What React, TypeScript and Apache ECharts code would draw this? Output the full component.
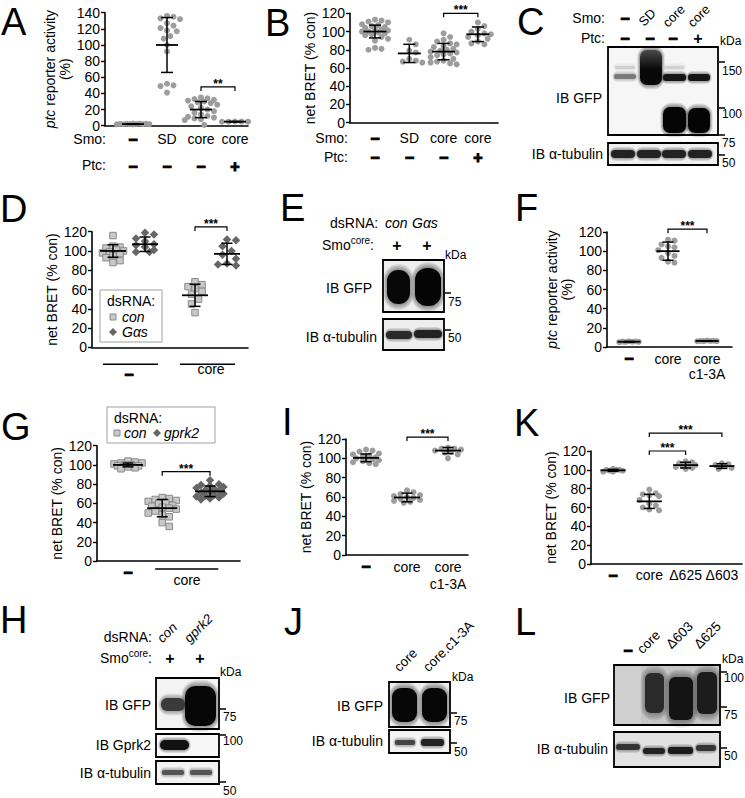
import React, { useEffect, useRef } from 'react';
import * as echarts from 'echarts';

const FONT = '"Liberation Sans", Arial, Helvetica, sans-serif';

// ---------------- Panel A : ptc reporter activity (%) ----------------
const aSmoLabels = ['−', 'SD', 'core', 'core'];
const aPtcLabels = ['−', '−', '−', '+'];
const aNone = [2.0, 2.3, 1.8, 2.5, 1.7, 2.1, 2.4, 1.9, 2.2, 2.0, 1.6, 2.6];
const aSD = [136, 135, 133, 132, 127, 124, 121, 118, 117, 111, 108, 100, 92, 52, 50, 49, 41];
const aCore = [35, 34, 33, 32, 31, 30, 29, 28, 26, 24, 22, 20, 18, 16, 14, 12, 11, 10, 9, 8, 7, 1];
const aCorePtc = [5, 5.2, 4.9, 5.1, 5];
const aMeans = [2, 100, 20, 5];
const aSDs = [0.4, 34, 10, 0.3];
const aSig = [[2, 3, 48]];
const aSigText = ['**'];

// ---------------- Panel B : net BRET ----------------
const bSmoLabels = ['−', 'SD', 'core', 'core'];
const bPtcLabels = ['−', '−', '−', '+'];
const bNone = [113, 112, 111, 110, 108, 107, 106, 105, 104, 103, 102, 101, 100, 100, 99, 98, 97, 96, 94, 92, 90, 82, 81, 80];
const bSD = [91, 86, 79, 77, 70, 68, 67, 66];
const bCore = [98, 94, 91, 89, 87, 86, 84, 83, 81, 80, 79, 78, 77, 76, 75, 74, 72, 70, 68, 67, 66, 65, 64];
const bCorePtc = [110, 106, 103, 100, 98, 97, 96, 94, 92, 89, 87, 86];
const bMeans = [100, 76, 78, 97];
const bSDs = [7, 10, 9, 8];
const bSig = [[2, 3, 120]];
const bSigText = ['***'];

// ---------------- Panel D : net BRET, dsRNA con / Gαs ----------------
const dGroupLabels = ['−', 'core'];
const dConNone = [116, 105, 104, 103, 101, 100, 99, 98, 97, 95, 93, 90, 88];
const dGasNone = [119, 117, 113, 110, 107, 106, 104, 101, 99, 99];
const dConCore = [68, 65, 63, 61, 58, 55, 50, 45, 36];
const dGasCore = [112, 111, 105, 100, 96, 92, 87, 86, 85];
const dMeans = [100, 107, 54, 97];
const dSDs = [6.5, 7.5, 11.5, 11];
const dSig = [[2, 3, 125]];
const dSigText = ['***'];

// ---------------- Panel F : ptc reporter activity ----------------
const fLabels = ['−', 'core', 'core\nc1-3A'];
const fNone = [5, 5.5, 6, 5.2, 5.8, 5.4, 5.6];
const fCore = [112, 111, 107, 105, 104, 101, 98, 95, 93, 89, 88];
const fC13A = [6, 6.5, 6.2, 6.8, 6.1, 6.4, 6.3];
const fMeans = [5.5, 100, 6.3];
const fSDs = [0.3, 9.5, 0.3];
const fSig = [[1, 2, 123]];
const fSigText = ['***'];

// ---------------- Panel G : net BRET, dsRNA con / gprk2 ----------------
const gGroupLabels = ['−', 'core'];
const gNone = [104, 103, 102, 102, 101, 100, 100, 99, 99, 98, 97, 96];
const gConCore = [66, 65, 64, 63, 62, 61, 60, 58, 57, 56, 55, 54, 52, 50, 48, 46, 40, 36];
const gGprk2Core = [84, 80, 79, 78, 77, 76, 75, 74, 73, 72, 71, 70, 69, 68, 67, 66, 65, 64];
const gMeans = [100, 55, 72.5];
const gSDs = [2, 9, 5.5];
const gSig = [[1, 2, 93]];
const gSigText = ['***'];

// ---------------- Panel I : net BRET ----------------
const iLabels = ['−', 'core', 'core\nc1-3A'];
const iNone = [109, 108, 107, 105, 104, 103, 102, 101, 100, 100, 99, 98, 97, 96, 95, 94];
const iCore = [67, 65, 63, 62, 61, 60, 59, 58, 57, 56, 55, 54];
const iC13A = [111, 110, 110, 109, 108, 107, 106, 104, 100];
const iMeans = [100.5, 59.5, 108];
const iSDs = [4, 4.5, 3.2];
const iSig = [[1, 2, 122]];
const iSigText = ['***'];

// ---------------- Panel K : net BRET ----------------
const kLabels = ['−', 'core', 'Δ625', 'Δ603'];
const kNone = [101, 100, 100, 99, 99, 98, 98, 100];
const kCore = [79, 75, 74, 73, 72, 68, 64, 62, 60, 58, 57];
const kD625 = [109, 108, 107, 106, 105, 104, 103, 102, 101];
const kD603 = [107, 106, 105, 104, 102, 101];
const kMeans = [99.5, 66.5, 105, 104];
const kSDs = [1, 7.5, 3, 2.5];
const kSig = [[1, 2, 120], [1, 3, 139]];
const kSigText = ['***', '***'];

// ---------------- Blot labels ----------------
const cLaneSmo = ['−', 'SD', 'core', 'core'];
const cLanePtc = ['−', '−', '−', '+'];
const cMarkers = ['150', '100', '75', '50'];
const eLanes = ['con', 'Gαs'];
const eMarkers = ['75', '50'];
const hLanes = ['con', 'gprk2'];
const hMarkers = ['75', '100', '50'];
const jLanes = ['core', 'core.c1-3A'];
const jMarkers = ['75', '50'];
const lLanes = ['−', 'core', 'Δ603', 'Δ625'];
const lMarkers = ['100', '75', '50'];

// ---------------- helpers ----------------
const SYM: any = {
  circle: { size: 6, style: { color: '#9d9d9d' } },
  rect: { size: 6.5, style: { color: '#c8c8c8', borderColor: '#8a8a8a', borderWidth: 1 } },
  diamond: { size: 8.5, style: { color: '#666666' } },
};

// deterministic beeswarm: x offsets (px) limited to +/- maxHalf
function swarm(vals: number[], pxPerY: number, diam: number, maxHalf: number): number[] {
  const placed: number[][] = [];
  const offs = new Array(vals.length).fill(0);
  const order = vals.map((_, i) => i).sort((a, b) => vals[b] - vals[a]);
  const step = diam * 0.5;
  const nSteps = Math.floor(maxHalf / step);
  for (const i of order) {
    const y = vals[i] * pxPerY;
    let best = 0, bestD = -1, found = false;
    for (let k = 0; k <= nSteps * 2; k++) {
      const c = (k % 2 ? 1 : -1) * Math.ceil(k / 2) * step;
      let minD = Infinity;
      placed.forEach(([px, py]) => { minD = Math.min(minD, Math.hypot(px - c, py - y)); });
      if (minD >= diam * 0.9) { best = c; found = true; break; }
      if (minD > bestD) { bestD = minD; best = c; }
    }
    if (!found && placed.length === 0) best = 0;
    offs[i] = best;
    placed.push([best, y]);
  }
  return offs;
}

const tok = (s: string) => (s === '−' || s === '+' ? `{d|${s}}` : `{t|${s}}`);
const richRows = (lh: number) => ({
  d: { fontSize: 16, fontWeight: 'bold', color: '#000', fontFamily: FONT, textBorderColor: '#000', textBorderWidth: 1, lineHeight: lh },
  t: { fontSize: 14, color: '#000', fontFamily: FONT, lineHeight: lh },
});
const ITAL = { i: { fontStyle: 'italic', fontSize: 14, fontFamily: FONT, color: '#000' } };

function addPanel(opt: any, d: any) {
  const idx = opt.grid.length;
  const xMin = -(d.p0 - d.L) / d.s;
  const xMax = xMin + (d.R - d.L) / d.s;
  opt.grid.push({ left: d.L, top: d.top, width: d.R - d.L, height: d.bottom - d.top });
  opt.xAxis.push({
    gridIndex: idx, type: 'value', min: xMin, max: xMax, position: 'bottom',
    axisLine: { show: true, onZero: false, lineStyle: { color: '#000', width: 1.6 } },
    axisTick: { show: false }, splitLine: { show: false },
    axisLabel: {
      show: true, customValues: d.labelVals, formatter: d.fmt, margin: d.margin,
      color: '#000', fontFamily: FONT, fontSize: 14, rich: d.rich, hideOverlap: false,
    },
  });
  opt.yAxis.push({
    gridIndex: idx, type: 'value', min: 0, max: d.yMax, interval: 20,
    axisLine: { show: true, onZero: false, lineStyle: { color: '#000', width: 1.6 } },
    axisTick: { show: true, length: 4, lineStyle: { color: '#000', width: 1.4 } },
    splitLine: { show: false },
    axisLabel: { color: '#000', fontFamily: FONT, fontSize: 14, margin: 5, lineHeight: 13 },
    name: d.yName, nameLocation: 'middle', nameGap: d.nameGap, nameRotate: 90,
    nameTextStyle: { color: '#000', fontFamily: FONT, fontSize: 14, lineHeight: d.nameLH || 16, rich: d.nameRich || {} },
  });
  const pxY = (d.bottom - d.top) / d.yMax;
  d.groups.forEach((g: any) => {
    const sym = SYM[g.sym];
    const offs = swarm(g.vals, pxY, sym.size + 0.5, d.spread || 15);
    opt.series.push({
      type: 'scatter', xAxisIndex: idx, yAxisIndex: idx, symbol: g.sym, symbolSize: sym.size,
      itemStyle: { ...sym.style, opacity: 1 }, silent: true, z: 2,
      data: g.vals.map((v: number, i: number) => [g.x + offs[i] / d.s, v]),
    });
  });
  const mh = d.meanHalf;
  const ch = d.capHalf || 5.5;
  opt.series.push({
    type: 'custom', xAxisIndex: idx, yAxisIndex: idx, z: 5, silent: true,
    data: d.groups.map((g: any) => [g.x, g.mean, g.sd]),
    renderItem: (params: any, api: any) => {
      const x = api.value(0), m = api.value(1), s = api.value(2);
      const c = api.coord([x, m]);
      const t = api.coord([x, m + s]);
      const b = api.coord([x, Math.max(0, m - s)]);
      const st = { stroke: '#000', lineWidth: 1.5 };
      return {
        type: 'group',
        children: [
          { type: 'line', shape: { x1: c[0] - mh, y1: c[1], x2: c[0] + mh, y2: c[1] }, style: { stroke: '#000', lineWidth: 1.8 } },
          { type: 'line', shape: { x1: t[0], y1: t[1], x2: b[0], y2: b[1] }, style: st },
          { type: 'line', shape: { x1: t[0] - ch, y1: t[1], x2: t[0] + ch, y2: t[1] }, style: st },
          { type: 'line', shape: { x1: b[0] - ch, y1: b[1], x2: b[0] + ch, y2: b[1] }, style: st },
        ],
      };
    },
  });
  opt.series.push({
    type: 'custom', xAxisIndex: idx, yAxisIndex: idx, z: 6, silent: true, clip: false,
    data: d.sig.map((s: number[]) => [d.groups[s[0]].x, d.groups[s[1]].x, s[2]]),
    renderItem: (params: any, api: any) => {
      const p1 = api.coord([api.value(0), api.value(2)]);
      const p2 = api.coord([api.value(1), api.value(2)]);
      return {
        type: 'group',
        children: [
          { type: 'polyline', shape: { points: [[p1[0], p1[1] + 4], [p1[0], p1[1]], [p2[0], p2[1]], [p2[0], p2[1] + 4]] }, style: { stroke: '#000', lineWidth: 1.2, fill: 'none' } },
          { type: 'text', x: (p1[0] + p2[0]) / 2, y: p1[1] + 3, style: { text: d.sigText[params.dataIndex], fontFamily: FONT, fontSize: 12, fontWeight: 'bold', fill: '#000', align: 'center', verticalAlign: 'bottom' } },
        ],
      };
    },
  });
  if (d.groupLines) {
    opt.series.push({
      type: 'custom', xAxisIndex: idx, yAxisIndex: idx, z: 6, silent: true, clip: false,
      data: d.groupLines,
      renderItem: (params: any, api: any) => {
        const p1 = api.coord([api.value(0), 0]);
        const p2 = api.coord([api.value(1), 0]);
        return { type: 'line', shape: { x1: p1[0], y1: p1[1] + d.groupLineOffset, x2: p2[0], y2: p2[1] + d.groupLineOffset }, style: { stroke: '#000', lineWidth: 1.6 } };
      },
    });
  }
}

// ---------------- graphic helpers ----------------
function T(text: string, x: number, y: number, o: any = {}) {
  const size = o.size || 14;
  const style: any = {
    text, fontFamily: FONT, fontSize: size, fontWeight: o.bold ? 'bold' : 'normal',
    fontStyle: o.italic ? 'italic' : 'normal', fill: '#000',
    align: o.align || 'left', verticalAlign: o.va || 'middle',
  };
  if (!o.rich) style.lineHeight = Math.round(size * 0.95);
  if (o.rich) style.rich = o.rich;
  if (o.stroke) { style.stroke = o.stroke; style.lineWidth = o.lw || 1; }
  return { type: 'text', x, y, rotation: o.rot || 0, z: 30, silent: true, style };
}
const DASH = (x: number, y: number) => T('−', x, y, { align: 'center', bold: true, size: 16, stroke: '#000', lw: 1 });
const PLUS = (x: number, y: number) => T('+', x, y, { align: 'center', bold: true, size: 16 });
const SIGN = (s: string, x: number, y: number) => (s === '+' ? PLUS(x, y) : DASH(x, y));
const ROT = (s: string, x: number, y: number, italic = false, size = 13.5) => T(s, x, y, { rot: Math.PI / 4, va: 'bottom', italic, size });
const BG = (x: number, y: number, w: number, h: number, fill: string) => ({ type: 'rect', z: 10, silent: true, shape: { x, y, width: w, height: h }, style: { fill } });
const FRAME = (x: number, y: number, w: number, h: number) => ({ type: 'rect', z: 14, silent: true, shape: { x, y, width: w, height: h }, style: { fill: 'none', stroke: '#000', lineWidth: 1.8 } });
// soft-edged band: several faint halo layers + core with optional vertical gradient
function BAND(x: number, y: number, w: number, h: number, color: string, soft = 2, r = 3, top?: string) {
  const out: any[] = [];
  [5, 4, 3, 2, 1].forEach((k) => {
    const e = k * soft * 0.6;
    out.push({
      type: 'rect', z: 11, silent: true,
      shape: { x: x - e * 0.6, y: y - e, width: w + e * 1.2, height: h + 2 * e, r: r + e },
      style: { fill: color, opacity: 0.09 },
    });
  });
  const fill = top
    ? { type: 'linear', x: 0, y: 0, x2: 0, y2: 1, colorStops: [{ offset: 0, color: top }, { offset: 0.55, color }, { offset: 1, color }] }
    : color;
  out.push({ type: 'rect', z: 12, silent: true, shape: { x, y, width: w, height: h, r }, style: { fill } });
  return out;
}
const MARK = (x: number, y: number, label: string, ly: number) => [
  { type: 'line', z: 15, silent: true, shape: { x1: x, y1: y, x2: x + 6, y2: y }, style: { stroke: '#000', lineWidth: 1.5 } },
  T(label, x + 3, ly, { size: 12 }),
];
const SUPER = { a: { fontSize: 14, fontFamily: FONT, color: '#000' }, b: { fontSize: 10, fontFamily: FONT, color: '#000', padding: [0, 0, 10, 0] } };
const SMOCORE = (x: number, y: number) => T('{a|Smo}{b|core}{a|:}', x, y, { align: 'right', rich: SUPER });

function buildGraphics() {
  const g: any[] = [];
  // panel letters
  [['A', 1, 21.5], ['B', 265, 22.5], ['C', 517, 21.5], ['D', 0, 209], ['E', 280, 208], ['F', 515, 208],
   ['G', 1, 427], ['I', 282, 422], ['K', 514, 423], ['H', 0, 620], ['J', 284, 622], ['L', 515, 622]]
    .forEach(([t, x, y]: any) => g.push(T(t, x, y, { size: 38 })));

  // row headers A & B
  g.push(T('Smo:', 106, 139, { align: 'right' }), T('Ptc:', 106, 165, { align: 'right' }));
  g.push(T('Smo:', 348, 138, { align: 'right' }), T('Ptc:', 348, 157, { align: 'right' }));

  // legend D
  g.push({ type: 'rect', z: 20, silent: true, shape: { x: 100, y: 290, width: 62, height: 52 }, style: { fill: '#fff', stroke: '#a0a0a0', lineWidth: 1 } });
  g.push(T('dsRNA:', 107, 301));
  g.push({ type: 'rect', z: 31, silent: true, shape: { x: 110, y: 314, width: 6, height: 6 }, style: { fill: '#c8c8c8', stroke: '#8a8a8a', lineWidth: 1 } });
  g.push(T('con', 122, 317, { italic: true }));
  g.push({ type: 'polygon', z: 31, silent: true, shape: { points: [[113, 328], [117, 332], [113, 336], [109, 332]] }, style: { fill: '#666' } });
  g.push(T('Gαs', 122, 332, { italic: true }));

  // legend G
  g.push({ type: 'rect', z: 20, silent: true, shape: { x: 107, y: 407, width: 108, height: 36 }, style: { fill: '#fff', stroke: '#a0a0a0', lineWidth: 1 } });
  g.push(T('dsRNA:', 114, 418));
  g.push({ type: 'rect', z: 31, silent: true, shape: { x: 114, y: 430, width: 6, height: 6 }, style: { fill: '#c8c8c8', stroke: '#8a8a8a', lineWidth: 1 } });
  g.push(T('con', 124, 433, { italic: true }));
  g.push({ type: 'polygon', z: 31, silent: true, shape: { points: [[157, 429], [161, 433], [157, 437], [153, 433]] }, style: { fill: '#666' } });
  g.push(T('gprk2', 164, 433, { italic: true }));

  // ---- C blot ----
  const cX = [625, 650, 673, 698];
  g.push(T('Smo:', 605, 18, { align: 'right' }), T('Ptc:', 605, 38, { align: 'right' }));
  g.push(DASH(cX[0], 18));
  g.push(ROT(cLaneSmo[1], 645, 28, false, 13), ROT(cLaneSmo[2], 669, 29, false, 13), ROT(cLaneSmo[3], 694, 29, false, 13));
  cLanePtc.forEach((s, i) => g.push(SIGN(s, cX[i], 38)));
  g.push(T('kDa', 720, 41, { size: 12 }));
  g.push(BG(608, 47, 110, 88, '#f6f6f6'));
  g.push(...BAND(615, 66, 20, 3, '#cfcfcf', 1), ...BAND(614, 74, 22, 5, '#7a7a7a', 1));
  g.push(...BAND(640, 50, 22, 35, '#080808', 1.5, 7, '#4a4a4a'));
  g.push(...BAND(664, 66, 20, 3, '#d0d0d0', 1), ...BAND(663, 74, 23, 7, '#151515', 1));
  g.push(...BAND(663, 107, 23, 26, '#050505', 1.5, 7));
  g.push(...BAND(688, 74, 22, 7, '#151515', 1), ...BAND(688, 108, 22, 25, '#050505', 1.5, 7));
  g.push(FRAME(608, 47, 110, 88));
  g.push(T('IB GFP', 602, 98, { align: 'right' }));
  g.push(BG(608, 143, 110, 22, '#f0f0f0'));
  [611, 637, 662, 688].forEach((x) => g.push(...BAND(x, 150, 24, 8, '#222', 1, 4)));
  g.push(FRAME(608, 143, 110, 22));
  g.push(T('IB α-tubulin', 603, 154, { align: 'right' }));
  [[62, 71], [108, 114], [135, 143], [155, 163]].forEach(([y, ly], i) => g.push(...MARK(719, y, cMarkers[i], ly)));

  // ---- E blot ----
  g.push(T('dsRNA:', 330, 223), T(eLanes[0], 385, 223, { italic: true }), T(eLanes[1], 412, 223, { italic: true }));
  g.push(SMOCORE(374, 245), PLUS(397, 245), PLUS(427, 245));
  g.push(T('kDa', 445, 255, { size: 12 }));
  g.push(BG(383, 260, 61, 52, '#eeeeee'));
  g.push(...BAND(387, 270, 23, 34, '#080808', 2, 11), ...BAND(415, 268, 26, 38, '#050505', 2, 12));
  g.push(FRAME(383, 260, 61, 52));
  g.push(T('IB GFP', 372, 288, { align: 'right' }));
  g.push(BG(383, 319, 61, 31, '#eeeeee'));
  g.push(...BAND(386, 331, 26, 8, '#2a2a2a', 1, 4), ...BAND(414, 330, 28, 8, '#222', 1, 4));
  g.push(FRAME(383, 319, 61, 31));
  g.push(T('IB α-tubulin', 377, 337, { align: 'right' }));
  [[293, 302], [330, 338]].forEach(([y, ly], i) => g.push(...MARK(445, y, eMarkers[i], ly)));

  // ---- H blot ----
  g.push(T('dsRNA:', 152, 637, { align: 'right' }));
  g.push(ROT(hLanes[0], 164, 645, true), ROT(hLanes[1], 191, 645, true));
  g.push(SMOCORE(152, 658), PLUS(170, 658), PLUS(200, 658));
  g.push(T('kDa', 220, 672, { size: 12 }));
  g.push(BG(156, 678, 63, 51, '#f3f3f3'));
  g.push(...BAND(161, 698, 24, 13, '#3a3a3a', 1.5, 6));
  g.push(...BAND(185, 686, 31, 40, '#060606', 2, 10));
  g.push(FRAME(156, 678, 63, 51));
  g.push(T('IB GFP', 151, 705, { align: 'right' }));
  g.push(BG(156, 734, 63, 23, '#f7f7f7'));
  g.push(...BAND(160, 740, 29, 10, '#111', 1, 5));
  g.push(FRAME(156, 734, 63, 23));
  g.push(T('IB Gprk2', 151, 745, { align: 'right' }));
  g.push(BG(156, 761, 63, 23, '#f3f3f3'));
  g.push(...BAND(162, 770, 22, 5, '#555', 1, 2), ...BAND(190, 770, 22, 5, '#555', 1, 2));
  g.push(FRAME(156, 761, 63, 23));
  g.push(T('IB α-tubulin', 151, 773, { align: 'right' }));
  [[709, 717], [735, 741], [782, 791]].forEach(([y, ly], i) => g.push(...MARK(220, y, hMarkers[i], ly)));

  // ---- J blot ----
  g.push(ROT(jLanes[0], 401, 674), ROT(jLanes[1], 430, 674));
  g.push(T('kDa', 452, 677, { size: 12 }));
  g.push(BG(389, 682, 61, 45, '#eeeeee'));
  g.push(...BAND(392, 688, 25, 34, '#060606', 2, 9), ...BAND(422, 688, 25, 34, '#060606', 2, 9));
  g.push(FRAME(389, 682, 61, 45));
  g.push(T('IB GFP', 383, 706, { align: 'right' }));
  g.push(BG(389, 730, 61, 23, '#f3f3f3'));
  g.push(...BAND(395, 740, 20, 5, '#444', 1, 2), ...BAND(421, 739, 23, 7, '#222', 1, 3));
  g.push(FRAME(389, 730, 61, 23));
  g.push(T('IB α-tubulin', 383, 741, { align: 'right' }));
  [[713, 721], [743, 752]].forEach(([y, ly], i) => g.push(...MARK(451, y, jMarkers[i], ly)));

  // ---- L blot ----
  g.push(DASH(628, 650));
  g.push(ROT(lLanes[1], 644, 656), ROT(lLanes[2], 673, 651), ROT(lLanes[3], 701, 651));
  g.push(T('kDa', 722, 659, { size: 12 }));
  g.push(BG(614, 665, 106, 60, '#c6c6c6'));
  g.push(BG(615, 666, 26, 58, '#cfcfcf'));
  g.push(...BAND(645, 673, 19, 40, '#2a2a2a', 2.5, 6), ...BAND(669, 677, 24, 43, '#141414', 2.5, 6), ...BAND(697, 672, 20, 42, '#1c1c1c', 2.5, 6));
  g.push(FRAME(614, 665, 106, 60));
  g.push(T('IB GFP', 610, 698, { align: 'right' }));
  g.push(BG(614, 732, 106, 35, '#e2e2e2'));
  g.push(...BAND(616, 744, 24, 6, '#333', 1, 3), ...BAND(643, 748, 22, 6, '#222', 1, 3), ...BAND(668, 747, 25, 7, '#1a1a1a', 1, 3), ...BAND(696, 745, 20, 6, '#333', 1, 3));
  g.push(FRAME(614, 732, 106, 35));
  g.push(T('IB α-tubulin', 608, 749, { align: 'right' }));
  [[672, 678], [707, 715], [748, 756]].forEach(([y, ly], i) => g.push(...MARK(721, y, lMarkers[i], ly)));
  return g;
}

function buildOption() {
  const opt: any = {
    animation: false, backgroundColor: '#fff', textStyle: { fontFamily: FONT },
    grid: [], xAxis: [], yAxis: [], series: [],
  };
  const yBret = 'net BRET (% con)';
  const yPtc = '{i|ptc} reporter activity\n(%)';

  // A
  addPanel(opt, {
    L: 105, R: 248, top: 12.7, bottom: 125.7, p0: 133, s: 34, yMax: 140, spread: 17,
    groups: [aNone, aSD, aCore, aCorePtc].map((vals, i) => ({ x: i, vals, mean: aMeans[i], sd: aSDs[i], sym: 'circle' })),
    labelVals: [0, 1, 2, 3], margin: 0, rich: richRows(27),
    fmt: (v: number) => { const i = Math.round(v); return `${tok(aSmoLabels[i])}\n${tok(aPtcLabels[i])}`; },
    yName: yPtc, nameGap: 26, nameLH: 15, nameRich: ITAL,
    sig: aSig, sigText: aSigText, meanHalf: 11, capHalf: 6,
  });
  // B
  addPanel(opt, {
    L: 350, R: 498, top: 13.3, bottom: 122.7, p0: 375, s: 34.3, yMax: 120, spread: 15,
    groups: [bNone, bSD, bCore, bCorePtc].map((vals, i) => ({ x: i, vals, mean: bMeans[i], sd: bSDs[i], sym: 'circle' })),
    labelVals: [0, 1, 2, 3], margin: 6, rich: richRows(19),
    fmt: (v: number) => { const i = Math.round(v); return `${tok(bSmoLabels[i])}\n${tok(bPtcLabels[i])}`; },
    yName: yBret, nameGap: 27,
    sig: bSig, sigText: bSigText, meanHalf: 11.5, capHalf: 6,
  });
  // D
  const dX = [-0.195, 0.195, 0.805, 1.195];
  const dSym = ['rect', 'diamond', 'rect', 'diamond'];
  addPanel(opt, {
    L: 92, R: 248, top: 231.7, bottom: 347.3, p0: 129, s: 82, yMax: 120, spread: 13,
    groups: [dConNone, dGasNone, dConCore, dGasCore].map((vals, i) => ({ x: dX[i], vals, mean: dMeans[i], sd: dSDs[i], sym: dSym[i] })),
    labelVals: [0, 1], margin: 15,
    rich: { d: { ...richRows(14).d, padding: [10, 0, 0, 0] }, t: richRows(14).t },
    fmt: (v: number) => tok(dGroupLabels[Math.round(v)]),
    yName: yBret, nameGap: 32,
    sig: dSig, sigText: dSigText, meanHalf: 13, capHalf: 5.5,
    groupLines: [[-0.317, 0.354], [0.622, 1.293]], groupLineOffset: 17,
  });
  // F
  addPanel(opt, {
    L: 607, R: 732, top: 232, bottom: 347, p0: 629, s: 39, yMax: 120, spread: 12,
    groups: [fNone, fCore, fC13A].map((vals, i) => ({ x: i, vals, mean: fMeans[i], sd: fSDs[i], sym: 'circle' })),
    labelVals: [0, 1, 2], margin: 4, rich: richRows(15),
    fmt: (v: number) => fLabels[Math.round(v)].split('\n').map(tok).join('\n'),
    yName: yPtc, nameGap: 32, nameLH: 15, nameRich: ITAL,
    sig: fSig, sigText: fSigText, meanHalf: 11.5, capHalf: 5.5,
  });
  // G
  const gX = [0, 0.58, 1.39];
  const gSym = ['rect', 'rect', 'diamond'];
  addPanel(opt, {
    L: 97, R: 240, top: 445.7, bottom: 561, p0: 128, s: 59, yMax: 120, spread: 15,
    groups: [gNone, gConCore, gGprk2Core].map((vals, i) => ({ x: gX[i], vals, mean: gMeans[i], sd: gSDs[i], sym: gSym[i] })),
    labelVals: [0, 1], margin: 4,
    rich: { d: richRows(14).d, t: { ...richRows(14).t, padding: [16, 0, 0, 0] } },
    fmt: (v: number) => tok(gGroupLabels[Math.round(v)]),
    yName: yBret, nameGap: 21,
    sig: gSig, sigText: gSigText, meanHalf: 15, capHalf: 5.5,
    groupLines: [[0.46, 1.53]], groupLineOffset: 8,
  });
  // I
  addPanel(opt, {
    L: 346, R: 468, top: 439, bottom: 555, p0: 366, s: 41, yMax: 120, spread: 14,
    groups: [iNone, iCore, iC13A].map((vals, i) => ({ x: i, vals, mean: iMeans[i], sd: iSDs[i], sym: 'circle' })),
    labelVals: [0, 1, 2], margin: 3, rich: richRows(17),
    fmt: (v: number) => iLabels[Math.round(v)].split('\n').map(tok).join('\n'),
    yName: yBret, nameGap: 28,
    sig: iSig, sigText: iSigText, meanHalf: 13, capHalf: 5.5,
  });
  // K
  addPanel(opt, {
    L: 591, R: 742, top: 451, bottom: 564, p0: 613, s: 36.3, yMax: 120, spread: 12,
    groups: [kNone, kCore, kD625, kD603].map((vals, i) => ({ x: i, vals, mean: kMeans[i], sd: kSDs[i], sym: 'circle' })),
    labelVals: [0, 1, 2, 3], margin: 3, rich: richRows(16),
    fmt: (v: number) => tok(kLabels[Math.round(v)]),
    yName: yBret, nameGap: 30,
    sig: kSig, sigText: kSigText, meanHalf: 12.5, capHalf: 5.5,
  });

  opt.graphic = { elements: buildGraphics() };
  return opt;
}

export default function App() {
  const ref = useRef<HTMLDivElement>(null);
  useEffect(() => {
    if (!ref.current) return;
    const chart = echarts.init(ref.current, undefined, { renderer: 'svg', width: 745, height: 798 });
    chart.setOption(buildOption());
    return () => chart.dispose();
  }, []);
  return (
    <div
      ref={ref}
      style={{ position: 'absolute', left: 0, top: 0, width: 745, height: 798, background: '#fff' }}
    />
  );
}
